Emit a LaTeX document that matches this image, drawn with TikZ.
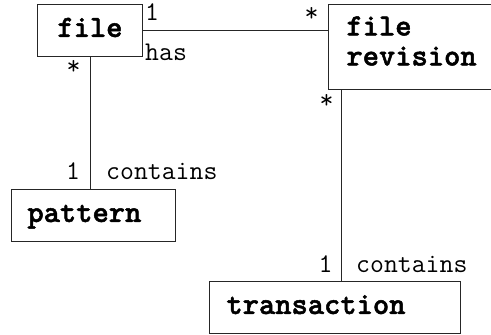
\documentclass[tikz,border=0pt]{standalone}
\usepackage{fontspec}
% heavier typewriter face for the class names
\newfontfamily\clsfont{lmmonolt10-bold.otf}[FakeBold=1.6]
\begin{document}
\begin{tikzpicture}[x=1pt,y=-1pt,
  cls/.style={draw=black!85, line width=0.9pt, rectangle, anchor=north west,
    inner ysep=0pt, align=left,
    font=\clsfont\fontsize{31}{30}\selectfont,
    text height=20pt, text depth=7pt},
  lbl/.style={font=\ttfamily\fontsize{27}{28}\selectfont, inner sep=0pt},
  assoc/.style={draw=black!85, line width=0.9pt}]
\useasboundingbox (0,0) rectangle (491,335);

% classes
\node[cls, minimum width=105pt, minimum height=52pt, inner xsep=0pt, align=center,
      text width=105pt] (file) at (37,4) {file};
\node[cls, minimum height=85pt, inner xsep=18pt, text width=128pt,
      text height=17pt, text depth=40pt] (rev) at (328,4) {file\\revision};
\node[cls, minimum height=52pt, inner xsep=16pt, text width=132pt] (pattern) at (11,189) {pattern};
\node[cls, minimum height=52pt, inner xsep=17pt, text width=217pt] (trans) at (209,281) {transaction};

% associations
\draw[assoc] (file.east) -- (file.east -| rev.west);
\draw[assoc] (file.south) -- (file.south |- pattern.north);
\coordinate (revfoot) at ([xshift=13pt]rev.south west);
\draw[assoc] (revfoot) -- (revfoot |- trans.north);

% multiplicities and role names
\node[lbl, anchor=base] (m1) at (152,20) {1};
\node[lbl, anchor=base west] (has) at (145,60) {has};
\node[lbl, anchor=north] (m2) at (311.5,7) {*};
\node[lbl, anchor=north] (m3) at (73.5,60) {*};
\node[lbl, anchor=base] (m4) at (73,179) {1};
\node[lbl, anchor=base west] (c1) at (106,179) {contains};
\node[lbl, anchor=north] (m5) at (326.5,94) {*};
\node[lbl, anchor=base] (m6) at (325.5,272) {1};
\node[lbl, anchor=base west] (c2) at (356,272) {contains};
\end{tikzpicture}
\end{document}
